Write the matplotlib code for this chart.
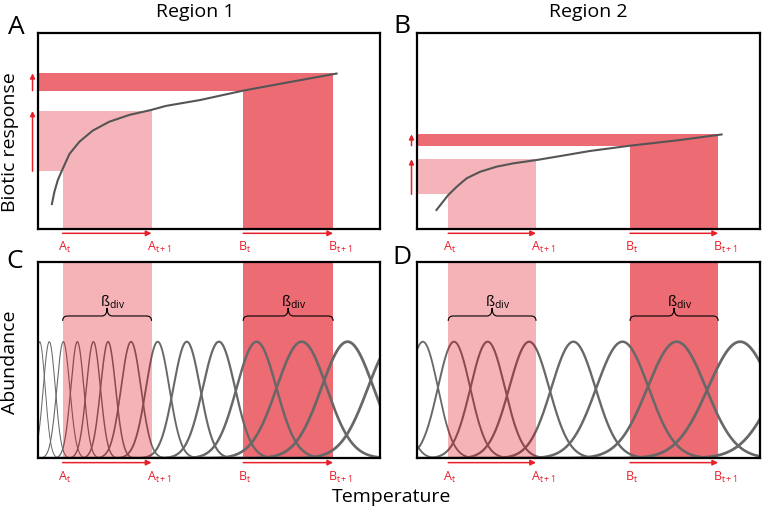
import numpy as np
import matplotlib.pyplot as plt
from matplotlib.path import Path
from matplotlib.patches import PathPatch

plt.rcParams['font.family'] = ['Open Sans', 'DejaVu Sans']
plt.rcParams['mathtext.fontset'] = 'custom'
plt.rcParams['mathtext.rm'] = 'Open Sans'
plt.rcParams['mathtext.it'] = 'Open Sans'

## temperatures of sites A and B at t and t+1 (A_t, A_t+1, B_t, B_t+1)
r1_temps = [7.2, 33.2, 60.0, 86.3]
r2_temps = [9.1, 34.7, 62.1, 87.8]

## biotic response curves
r1_resp_x = [4.0, 4.8, 5.8, 7.2, 9.2, 12.1, 16.0, 20.8, 26.7, 33.0, 37.4, 47.4, 60.0, 73.7, 87.6]
r1_resp_y = [12.2, 19.0, 25.0, 30.6, 38.3, 44.5, 50.2, 54.7, 58.2, 60.7, 62.8, 65.8, 70.6, 75.0, 79.4]
r2_resp_x = [5.5, 7.2, 9.1, 11.6, 14.5, 18.4, 23.2, 28.1, 34.9, 41.7, 50.4, 62.1, 76.7, 89.1]
r2_resp_y = [9.3, 13.1, 17.3, 21.6, 25.9, 29.2, 31.8, 33.5, 35.2, 37.2, 39.8, 42.5, 45.4, 48.3]
## response at A_t, A_t+1, B_t, B_t+1
r1_levels = [29.5, 60.2, 70.6, 79.4]
r2_levels = [17.7, 35.6, 42.5, 48.3]

## species abundance curves: optimum, niche width, line weight
r1_optima = [0.5, 3.3, 7.4, 11.5, 16.2, 20.5, 27.2, 35.0, 43.5, 52.9, 63.9, 77.1, 90.5, 104.4]
r1_widths = [1.6, 1.75, 1.9, 1.9, 2.05, 2.2, 2.9, 3.4, 3.9, 4.7, 5.8, 7.3, 7.6, 7.9]
r1_lw = [0.7, 0.75, 0.8, 0.9, 1.0, 1.1, 1.2, 1.35, 1.5, 1.6, 1.75, 1.9, 2.0, 2.0]
r2_optima = [-8.5, 1.7, 10.8, 20.6, 32.7, 45.6, 59.9, 75.7, 94.2, 114.6]
r2_widths = [4.1, 4.4, 4.7, 5.0, 5.8, 6.4, 7.6, 8.5, 9.3, 9.9]
r2_lw = [1.3, 1.3, 1.4, 1.5, 1.6, 1.7, 1.8, 1.9, 2.0, 2.0]
peak_abundance = 59.4

light = '#f5b4b9'
dark = '#ed6b73'
red = '#e8202a'

fig = plt.figure(figsize=(7.62, 5.13), dpi=100)
W, H = 762.0, 513.0
axA = fig.add_axes([38 / W, 1 - 229 / H, 342 / W, 196 / H])
axB = fig.add_axes([417 / W, 1 - 229 / H, 343 / W, 196 / H])
axC = fig.add_axes([38 / W, 1 - 458.3 / H, 342 / W, 196.3 / H])
axD = fig.add_axes([417 / W, 1 - 458.3 / H, 343 / W, 196.3 / H])

for ax in [axA, axB, axC, axD]:
    ax.set_xlim(0, 100)
    ax.set_ylim(0, 100)
    ax.set_xticks([])
    ax.set_yticks([])
    for sp in ax.spines.values():
        sp.set_linewidth(1.6)
        sp.set_zorder(10)


def temp_labels(ax, temps):
    names = ['A$_\\mathrm{t}$', 'A$_\\mathrm{t+1}$', 'B$_\\mathrm{t}$', 'B$_\\mathrm{t+1}$']
    for name, t in zip(names, temps):
        ax.annotate(name, xy=(t, 0), xycoords=('data', 'axes fraction'),
                    xytext=(-3.4, -8), textcoords='offset points',
                    ha='left', va='top', color=red, fontsize=9, annotation_clip=False)
    for i in [0, 2]:
        ax.annotate('', xy=(temps[i + 1], -0.022), xytext=(temps[i], -0.022),
                    xycoords=('data', 'axes fraction'), annotation_clip=False,
                    arrowprops=dict(arrowstyle='-|>', color=red, lw=1.1,
                                    mutation_scale=8, shrinkA=0, shrinkB=0))


def response_panel(ax, temps, levels, rx, ry):
    ## light band: lower horizontal strip + column A
    ax.fill_between([0, temps[1]], levels[0], levels[1], color=light, lw=0, zorder=1)
    ax.fill_between([temps[0], temps[1]], 0, levels[1], color=light, lw=0, zorder=1)
    ## dark band: upper horizontal strip + column B
    ax.fill_between([0, temps[3]], levels[2], levels[3], color=dark, lw=0, zorder=1)
    ax.fill_between([temps[2], temps[3]], 0, levels[3], color=dark, lw=0, zorder=1)
    ax.plot(rx, ry, color='#555555', lw=1.5, zorder=3, solid_capstyle='butt')
    ## arrows on the left showing change in response
    for lo, hi in [(levels[0], levels[1]), (levels[2], levels[3])]:
        ax.annotate('', xy=(-0.016, hi), xytext=(-0.016, lo),
                    xycoords=('axes fraction', 'data'), annotation_clip=False,
                    arrowprops=dict(arrowstyle='-|>', color=red, lw=1.1,
                                    mutation_scale=7, shrinkA=0, shrinkB=0))
    temp_labels(ax, temps)


def brace(ax, x0, x1, y0=70.0, y1=72.5, y2=76.6, q=1.5):
    xm = (x0 + x1) / 2
    verts = [(x0, y0), (x0, y1), (x0 + q, y1), (xm - q, y1), (xm, y1), (xm, y2),
             (xm, y1), (xm + q, y1), (x1 - q, y1), (x1, y1), (x1, y0)]
    codes = [Path.MOVETO, Path.CURVE3, Path.CURVE3, Path.LINETO, Path.CURVE3, Path.CURVE3,
             Path.CURVE3, Path.CURVE3, Path.LINETO, Path.CURVE3, Path.CURVE3]
    ax.add_patch(PathPatch(Path(verts, codes), fill=False, lw=0.8, color='black', zorder=6))
    ax.text(xm - 2.0, 77.2, 'ß$_\\mathrm{div}$', ha='left', va='baseline', fontsize=10.5, zorder=6)


def abundance_panel(ax, temps, optima, widths, lws):
    ax.axvspan(temps[2], temps[3], color=dark, lw=0, zorder=1)
    x = np.linspace(-20, 120, 1400)
    for c, s, lw in zip(optima, widths, lws):
        ax.plot(x, peak_abundance * np.exp(-0.5 * ((x - c) / s) ** 2),
                color='#686868', lw=lw, zorder=2)
    ## translucent light band over the curves
    ax.axvspan(temps[0], temps[1], color='#de0516', alpha=0.3, lw=0, zorder=4)
    brace(ax, temps[0], temps[1])
    brace(ax, temps[2], temps[3])
    temp_labels(ax, temps)


response_panel(axA, r1_temps, r1_levels, r1_resp_x, r1_resp_y)
response_panel(axB, r2_temps, r2_levels, r2_resp_x, r2_resp_y)
abundance_panel(axC, r1_temps, r1_optima, r1_widths, r1_lw)
abundance_panel(axD, r2_temps, r2_optima, r2_widths, r2_lw)

## titles, panel letters, axis labels
fig.text(195 / W, 1 - 12 / H, 'Region 1', ha='center', va='center', fontsize=14)
fig.text(588 / W, 1 - 12 / H, 'Region 2', ha='center', va='center', fontsize=14)
for letter, px, py in [('A', 16, 28), ('B', 402, 27), ('C', 15, 261), ('D', 402, 258)]:
    fig.text(px / W, 1 - py / H, letter, ha='center', va='center', fontsize=19)
fig.text(10 / W, 1 - 142 / H, 'Biotic response', rotation=90, ha='center', va='center', fontsize=14)
fig.text(10 / W, 1 - 362 / H, 'Abundance', rotation=90, ha='center', va='center', fontsize=14)
fig.text(392 / W, 1 - 497 / H, 'Temperature', ha='center', va='center', fontsize=14)

fig.savefig('out.png', dpi=100)
